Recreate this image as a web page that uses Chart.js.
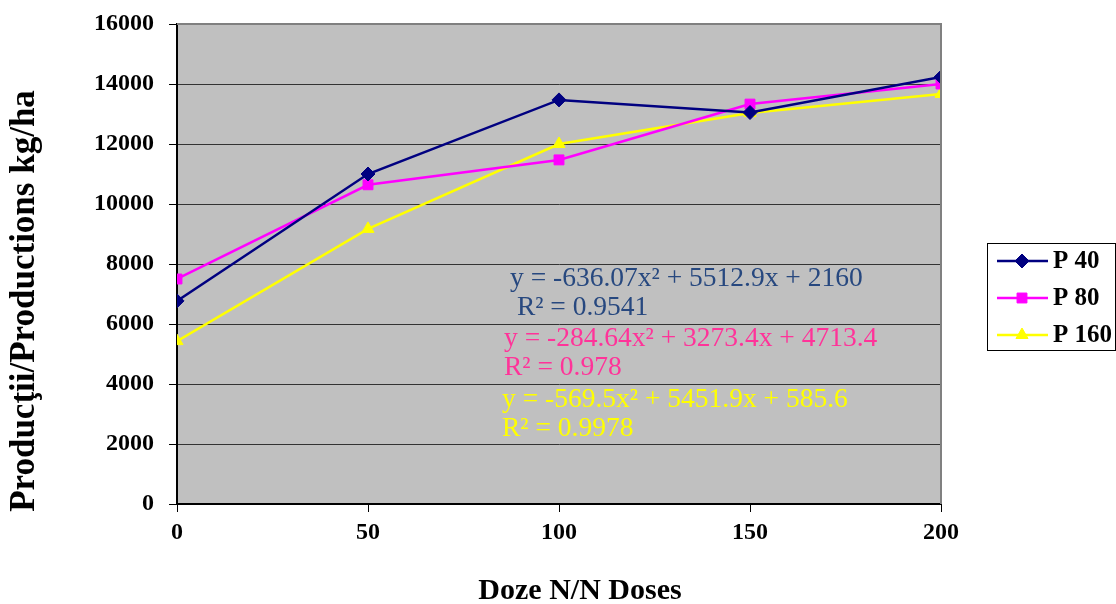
<!DOCTYPE html>
<html>
<head>
<meta charset="utf-8">
<script src="https://cdn.jsdelivr.net/npm/chart.js@4"></script>
<style>
  html, body { margin: 0; padding: 0; background: #fff; }
  #wrap { width: 1116px; height: 604px; }
</style>
</head>
<body>
<div id="wrap"><canvas id="chart" width="1116" height="604"></canvas></div>
<script>
const doses = [0, 50, 100, 150, 200];
const p40 = [6770, 11000, 13470, 13050, 14230];
const p80 = [7500, 10640, 11470, 13330, 14000];
const p160 = [5430, 9170, 12000, 13030, 13670];
const yTicks = [0, 2000, 4000, 6000, 8000, 10000, 12000, 14000, 16000];

const seriesNames = ['P 40', 'P 80', 'P 160'];
const seriesColors = ['#000080', '#FF00FF', '#FFFF00'];
const seriesPoints = ['rectRot', 'rect', 'triangle'];

// trend line labels: text, colour, left x, middle y
const eqLabels = [
  ['y = -636.07x\u00b2 + 5512.9x + 2160', '#27487F', 510, 279],
  [' R\u00b2 = 0.9541', '#27487F', 510, 308],
  ['y = -284.64x\u00b2 + 3273.4x + 4713.4', '#FF3399', 504, 339],
  ['R\u00b2 = 0.978', '#FF3399', 504, 368],
  ['y = -569.5x\u00b2 + 5451.9x + 585.6', '#FFFF00', 502, 400],
  ['R\u00b2 = 0.9978', '#FFFF00', 502, 429]
];

const serif = "'Liberation Serif', 'Times New Roman', serif";

function toPoints(vals) {
  return vals.map((v, i) => ({ x: doses[i], y: v }));
}

const datasets = [p40, p80, p160].map((vals, i) => ({
  label: seriesNames[i],
  data: toPoints(vals),
  borderColor: seriesColors[i],
  backgroundColor: seriesColors[i],
  borderWidth: 2.5,
  pointStyle: seriesPoints[i],
  pointRadius: 7,
  pointBorderWidth: 1,
  tension: 0
}));

const decor = {
  id: 'decor',
  beforeDraw(chart) {
    const { ctx, chartArea: a } = chart;
    ctx.save();
    ctx.fillStyle = '#C0C0C0';
    ctx.fillRect(a.left, a.top, a.right - a.left, a.bottom - a.top);
    ctx.restore();
  },
  afterDatasetsDraw(chart) {
    const { ctx, chartArea: a } = chart;
    ctx.save();
    // gray frame top / right
    ctx.strokeStyle = '#808080';
    ctx.lineWidth = 2;
    ctx.beginPath();
    ctx.moveTo(a.left, a.top);
    ctx.lineTo(a.right, a.top);
    ctx.lineTo(a.right, a.bottom);
    ctx.stroke();

    // equations
    ctx.font = '27.5px ' + serif;
    ctx.textBaseline = 'middle';
    ctx.textAlign = 'left';
    eqLabels.forEach(([t, c, x, y]) => {
      ctx.fillStyle = c;
      ctx.fillText(t, x, y);
    });

    // x axis title
    ctx.fillStyle = '#000';
    ctx.textAlign = 'center';
    ctx.font = 'bold 30px ' + serif;
    ctx.fillText('Doze N/N Doses', 580, 591);

    // y axis title
    ctx.translate(25, 301);
    ctx.rotate(-Math.PI / 2);
    ctx.font = 'bold 35px ' + serif;
    ctx.fillText('Producţii/Productions kg/ha', 0, 0);
    ctx.restore();

    // legend
    ctx.save();
    ctx.strokeStyle = '#000';
    ctx.lineWidth = 1;
    ctx.strokeRect(987.5, 243.5, 128, 107);
    const rows = [261, 298, 335];
    chart.data.datasets.forEach((ds, i) => {
      const y = rows[i];
      ctx.strokeStyle = ds.borderColor;
      ctx.lineWidth = 2.5;
      ctx.beginPath();
      ctx.moveTo(997, y);
      ctx.lineTo(1048, y);
      ctx.stroke();
      ctx.fillStyle = ds.backgroundColor;
      ctx.strokeStyle = ds.borderColor;
      ctx.lineWidth = 1;
      Chart.helpers.drawPoint(ctx, { pointStyle: ds.pointStyle, radius: 7, borderWidth: 1 }, 1022, y);
      ctx.fillStyle = '#000';
      ctx.font = 'bold 25px ' + serif;
      ctx.textBaseline = 'middle';
      ctx.textAlign = 'left';
      ctx.fillText(ds.label, 1053, y + 1);
    });
    ctx.restore();
  }
};

new Chart(document.getElementById('chart'), {
  type: 'line',
  data: { datasets },
  plugins: [decor],
  options: {
    responsive: false,
    animation: false,
    layout: { padding: { left: 0, top: 24, right: 175, bottom: 0 } },
    plugins: { legend: { display: false }, tooltip: { enabled: false } },
    scales: {
      x: {
        type: 'linear',
        min: 0,
        max: 200,
        afterFit: s => { s.height = 100; s.paddingLeft = 0; s.paddingRight = 0; },
        afterBuildTicks: s => { s.ticks = doses.map(v => ({ value: v })); },
        grid: { drawOnChartArea: false, drawTicks: true, tickLength: 8, color: '#000' },
        border: { color: '#000', width: 2 },
        ticks: {
          color: '#000',
          padding: 6,
          callback: v => String(v),
          font: { family: serif, size: 24, weight: 'bold' }
        }
      },
      y: {
        min: 0,
        max: 16000,
        afterFit: s => { s.width = 177; s.paddingTop = 0; s.paddingBottom = 0; },
        afterBuildTicks: s => { s.ticks = yTicks.map(v => ({ value: v })); },
        grid: { color: '#333', lineWidth: 1, tickLength: 8, tickColor: '#000' },
        border: { color: '#000', width: 2 },
        ticks: {
          color: '#000',
          padding: 15,
          callback: v => String(v),
          font: { family: serif, size: 24, weight: 'bold' }
        }
      }
    }
  }
});
</script>
</body>
</html>
